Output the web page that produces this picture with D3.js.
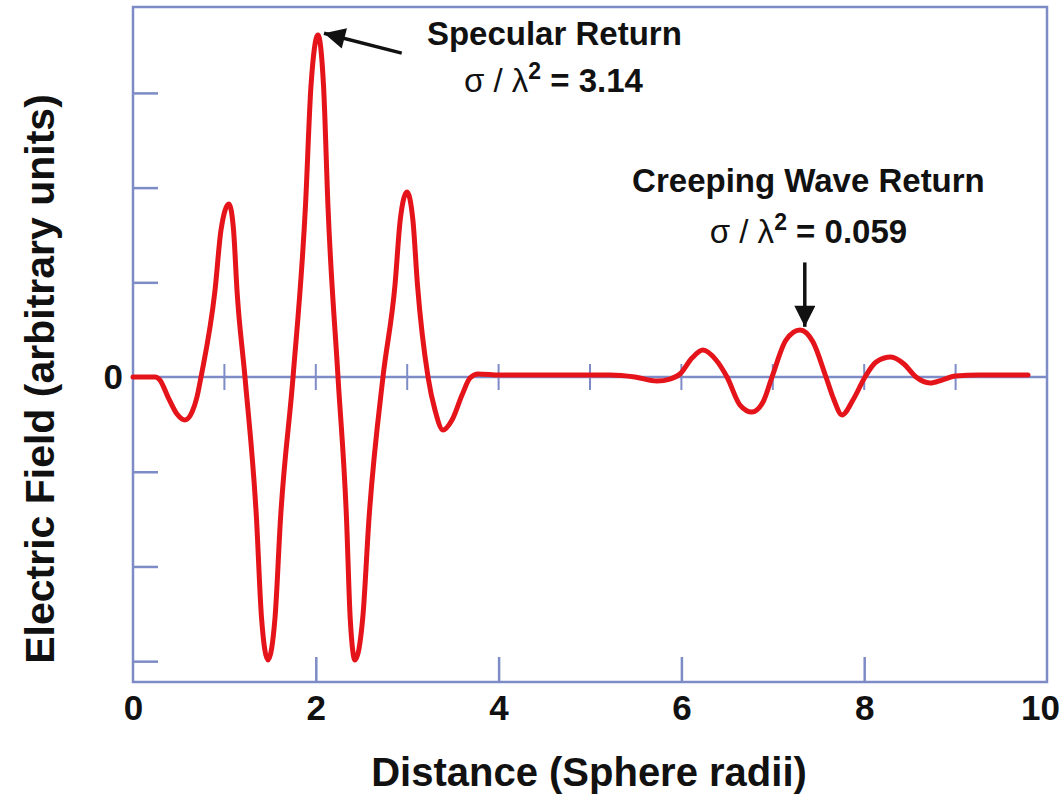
<!DOCTYPE html>
<html>
<head>
<meta charset="utf-8">
<script src="https://cdn.jsdelivr.net/npm/d3@7"></script>
<style>
  body { margin: 0; background: #fff; }
  text { font-family: "Liberation Sans", Arial, sans-serif; fill: #111; }
</style>
</head>
<body>
<div id="chart"></div>
<script>
// distance (sphere radii) and electric field (arbitrary units)
const distance = [0, 0.241, 0.295, 0.383, 0.481, 0.569, 0.646, 0.700, 0.744,
  0.897, 0.963, 1.050, 1.100, 1.138, 1.225,
  1.351, 1.406, 1.477, 1.554, 1.614, 1.751,
  1.887, 1.947, 2.024, 2.085, 2.133, 2.243,
  2.336, 2.376, 2.429, 2.514, 2.582, 2.735,
  2.867, 2.924, 2.998, 3.062, 3.112, 3.228,
  3.304, 3.392, 3.490, 3.600, 3.687, 3.775,
  4.015, 4.672, 5.219, 5.492, 5.733, 5.875, 5.985,
  6.116, 6.236, 6.379, 6.499, 6.641, 6.772, 6.893, 6.991,
  7.144, 7.298, 7.440, 7.582, 7.670, 7.757, 7.877, 8.009,
  8.129, 8.293, 8.435, 8.567, 8.720, 8.851, 8.993, 9.267, 9.792];
const field = [0, 0, -0.032, -0.211, -0.391, -0.454, -0.370, -0.211, 0,
  0.913, 1.553, 1.827, 1.553, 0.913, 0,
  -1.494, -2.540, -2.988, -2.540, -1.494, 0,
  1.806, 3.069, 3.611, 3.069, 1.806, 0,
  -1.494, -2.540, -2.988, -2.540, -1.494, 0,
  0.977, 1.661, 1.954, 1.661, 0.977, 0,
  -0.348, -0.560, -0.454, -0.190, -0.011, 0.032,
  0.021, 0.021, 0.021, 0, -0.042, -0.021, 0.032,
  0.200, 0.285, 0.180, 0, -0.296, -0.370, -0.264, 0,
  0.390, 0.496, 0.370, 0, -0.243, -0.400, -0.243, 0,
  0.158, 0.211, 0.137, 0, -0.063, -0.032, 0.011, 0.021, 0.021];

const xTicks = [0, 2, 4, 6, 8, 10];
const yTicks = [-3, -2, -1, 0, 1, 2, 3];
const zeroTicks = [1, 2, 3, 4, 5, 6, 7, 8, 9];

const data = distance.map((d, i) => ({ x: d, y: field[i] }));

const W = 1064, H = 802;
const axisColor = "#7d8cc6";
const red = "#e5141b";

const svg = d3.select("#chart").append("svg")
  .attr("width", W).attr("height", H);

const x = d3.scaleLinear().domain([0, 10]).range([133, 1047]);
const y = d3.scaleLinear().domain([-3.22, 3.907]).range([682, 7]);

// frame
svg.append("rect")
  .attr("x", x(0)).attr("y", y(3.907))
  .attr("width", x(10) - x(0)).attr("height", y(-3.22) - y(3.907))
  .attr("fill", "none").attr("stroke", axisColor).attr("stroke-width", 2.5);

// bottom axis, ticks pointing inward
const xAxis = d3.axisBottom(x).tickValues(xTicks).tickSizeInner(-25).tickSizeOuter(0).tickPadding(13);
const gx = svg.append("g").attr("transform", `translate(0,${y(-3.22)})`).call(xAxis);
gx.select(".domain").remove();
gx.selectAll(".tick line").attr("stroke", axisColor).attr("stroke-width", 2.5)
  .filter(d => d === 0 || d === 10).remove();
gx.selectAll(".tick text").attr("fill", "#111")
  .style("font-size", "35px").style("font-weight", "bold")
  .filter(d => d === 10).attr("dx", -7);

// left axis
const yAxis = d3.axisLeft(y).tickValues(yTicks).tickSizeInner(-25).tickSizeOuter(0).tickPadding(10)
  .tickFormat(d => d === 0 ? "0" : "");
const gy = svg.append("g").attr("transform", `translate(${x(0)},0)`).call(yAxis);
gy.select(".domain").remove();
gy.selectAll(".tick line").attr("stroke", axisColor).attr("stroke-width", 2.5)
  .filter(d => d === 0).remove();
gy.selectAll(".tick text").attr("fill", "#111")
  .style("font-size", "35px").style("font-weight", "bold");

// zero line with crossing ticks
svg.append("line")
  .attr("x1", x(0)).attr("x2", x(10)).attr("y1", y(0)).attr("y2", y(0))
  .attr("stroke", axisColor).attr("stroke-width", 2.5);
svg.selectAll(".zt").data(zeroTicks).join("line")
  .attr("class", "zt")
  .attr("x1", d => x(d)).attr("x2", d => x(d))
  .attr("y1", y(0) - 13).attr("y2", y(0) + 13)
  .attr("stroke", axisColor).attr("stroke-width", 2);

// waveform
const line = d3.line().x(d => x(d.x)).y(d => y(d.y)).curve(d3.curveMonotoneX);
svg.append("path").datum(data)
  .attr("d", line)
  .attr("fill", "none").attr("stroke", red).attr("stroke-width", 5)
  .attr("stroke-linejoin", "round").attr("stroke-linecap", "round");

// arrows
svg.append("defs").append("marker")
  .attr("id", "head").attr("viewBox", "0 0 10 10")
  .attr("refX", 10).attr("refY", 5)
  .attr("markerWidth", 7.5).attr("markerHeight", 6)
  .attr("markerUnits", "strokeWidth").attr("orient", "auto")
  .append("path").attr("d", "M0,0 L10,5 L0,10 Z").attr("fill", "#111");

svg.append("line")
  .attr("x1", x(2.94)).attr("y1", y(3.42)).attr("x2", x(2.09)).attr("y2", y(3.63))
  .attr("stroke", "#111").attr("stroke-width", 3.5).attr("marker-end", "url(#head)");
svg.append("line")
  .attr("x1", x(7.35)).attr("y1", y(1.21)).attr("x2", x(7.35)).attr("y2", y(0.53))
  .attr("stroke", "#111").attr("stroke-width", 3.5).attr("marker-end", "url(#head)");

// annotations
function label(cx, cy, txt) {
  svg.append("text").attr("x", x(cx)).attr("y", y(cy))
    .attr("text-anchor", "middle")
    .style("font-size", "33px").style("font-weight", "bold")
    .text(txt);
}
function sigma(cx, cy, val) {
  const t = svg.append("text").attr("x", x(cx)).attr("y", y(cy))
    .attr("text-anchor", "middle").style("font-size", "33px");
  t.append("tspan").style("font-weight", "normal").text("σ / λ");
  t.append("tspan").style("font-weight", "bold").style("font-size", "23px")
    .attr("dy", -13).text("2");
  t.append("tspan").style("font-weight", "bold").attr("dy", 13).text(" = " + val);
}
label(4.61, 3.51, "Specular Return");
sigma(4.60, 3.01, "3.14");
label(7.39, 1.95, "Creeping Wave Return");
sigma(7.39, 1.41, "0.059");

// axis titles
svg.append("text")
  .attr("x", 589).attr("y", 786)
  .attr("text-anchor", "middle")
  .style("font-size", "40px").style("font-weight", "bold")
  .text("Distance (Sphere radii)");
svg.append("text")
  .attr("transform", "translate(54,379) rotate(-90)")
  .attr("text-anchor", "middle")
  .style("font-size", "41px").style("font-weight", "bold")
  .text("Electric Field (arbitrary units)");
</script>
</body>
</html>
